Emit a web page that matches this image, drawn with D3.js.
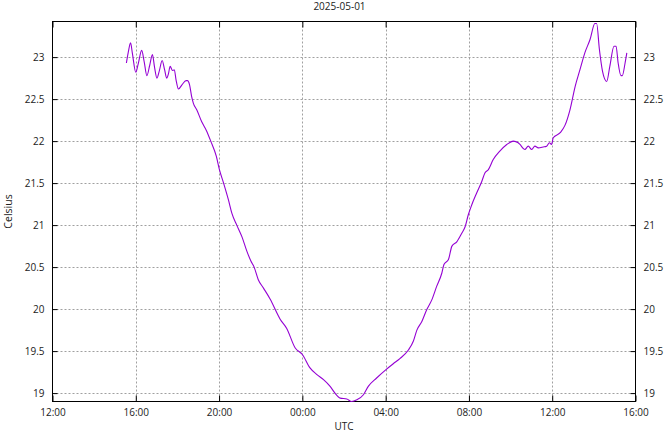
<!DOCTYPE html>
<html>
<head>
<meta charset="utf-8">
<script src="https://cdn.jsdelivr.net/npm/d3@7/dist/d3.min.js"></script>
<style>
  html, body { margin: 0; padding: 0; background: #fff; }
  svg { display: block; }
  text { font-family: "Open Sans", "DejaVu Sans", sans-serif; fill: #222; }
</style>
</head>
<body>
<svg id="chart" width="664" height="432"></svg>
<script>
// ---- data ----
const title = "2025-05-01";
const xLabel = "UTC";
const yLabel = "Celsius";

const times = [
  "2025-04-30 15:33","2025-04-30 15:38","2025-04-30 15:45","2025-04-30 15:50","2025-04-30 16:00",
  "2025-04-30 16:07","2025-04-30 16:17","2025-04-30 16:24","2025-04-30 16:32","2025-04-30 16:40",
  "2025-04-30 16:48","2025-04-30 16:54","2025-04-30 17:01","2025-04-30 17:08","2025-04-30 17:16",
  "2025-04-30 17:23","2025-04-30 17:29","2025-04-30 17:34","2025-04-30 17:39","2025-04-30 17:46",
  "2025-04-30 17:51","2025-04-30 17:56","2025-04-30 18:03","2025-04-30 18:13","2025-04-30 18:25",
  "2025-04-30 18:29","2025-04-30 18:35","2025-04-30 18:41","2025-04-30 18:46","2025-04-30 18:56",
  "2025-04-30 19:10","2025-04-30 19:23","2025-04-30 19:36","2025-04-30 19:52","2025-04-30 20:01",
  "2025-04-30 20:13","2025-04-30 20:27","2025-04-30 20:37","2025-04-30 20:51","2025-04-30 21:06",
  "2025-04-30 21:20","2025-04-30 21:32","2025-04-30 21:41","2025-04-30 21:53","2025-04-30 22:08",
  "2025-04-30 22:27","2025-04-30 22:56","2025-04-30 23:15","2025-04-30 23:39","2025-05-01 00:00",
  "2025-05-01 00:22","2025-05-01 00:42","2025-05-01 01:01","2025-05-01 01:20","2025-05-01 01:34",
  "2025-05-01 01:49","2025-05-01 02:08","2025-05-01 02:22","2025-05-01 02:37","2025-05-01 02:56",
  "2025-05-01 03:10","2025-05-01 03:34","2025-05-01 04:01","2025-05-01 04:22","2025-05-01 04:41",
  "2025-05-01 05:05","2025-05-01 05:20","2025-05-01 05:30","2025-05-01 05:44","2025-05-01 05:58",
  "2025-05-01 06:13","2025-05-01 06:27","2025-05-01 06:42","2025-05-01 06:48","2025-05-01 07:01",
  "2025-05-01 07:11","2025-05-01 07:25","2025-05-01 07:39","2025-05-01 07:49","2025-05-01 07:58",
  "2025-05-01 08:08","2025-05-01 08:22","2025-05-01 08:37","2025-05-01 08:46","2025-05-01 08:56",
  "2025-05-01 09:10","2025-05-01 09:29","2025-05-01 09:49","2025-05-01 10:08","2025-05-01 10:22",
  "2025-05-01 10:27","2025-05-01 10:41","2025-05-01 10:51","2025-05-01 11:01","2025-05-01 11:10",
  "2025-05-01 11:20","2025-05-01 11:34","2025-05-01 11:44","2025-05-01 11:52","2025-05-01 11:58",
  "2025-05-01 12:03","2025-05-01 12:23","2025-05-01 12:37","2025-05-01 12:51","2025-05-01 13:06",
  "2025-05-01 13:20","2025-05-01 13:34","2025-05-01 13:49","2025-05-01 14:03","2025-05-01 14:08",
  "2025-05-01 14:16","2025-05-01 14:25","2025-05-01 14:37","2025-05-01 14:46","2025-05-01 14:58",
  "2025-05-01 15:04","2025-05-01 15:10","2025-05-01 15:18","2025-05-01 15:22","2025-05-01 15:30",
  "2025-05-01 15:35"
];

const celsius = [
  22.93, 23.05, 23.17, 23.05, 22.82,
  22.92, 23.08, 22.95, 22.78, 22.90,
  23.03, 22.88, 22.75, 22.84, 22.96,
  22.85, 22.75, 22.80, 22.89, 22.84,
  22.85, 22.73, 22.62, 22.67, 22.72,
  22.72, 22.67, 22.53, 22.45, 22.37,
  22.23, 22.13, 22.00, 21.82, 21.66,
  21.50, 21.30, 21.14, 21.00, 20.86,
  20.69, 20.57, 20.50, 20.35, 20.25,
  20.12, 19.88, 19.77, 19.54, 19.46,
  19.30, 19.22, 19.16, 19.08, 19.00,
  18.94, 18.93, 18.90, 18.92, 18.98,
  19.08, 19.18, 19.28, 19.35, 19.41,
  19.51, 19.62, 19.75, 19.85, 19.99,
  20.11, 20.27, 20.43, 20.53, 20.59,
  20.75, 20.80, 20.90, 20.98, 21.12,
  21.24, 21.38, 21.52, 21.62, 21.66,
  21.78, 21.88, 21.96, 22.00, 21.98,
  21.96, 21.90, 21.94, 21.90, 21.94,
  21.92, 21.93, 21.94, 21.98, 21.96,
  22.04, 22.10, 22.19, 22.37, 22.65,
  22.85, 23.05, 23.21, 23.40, 23.40,
  23.09, 22.83, 22.71, 22.89, 23.13,
  23.13, 22.93, 22.78, 22.78, 22.93,
  23.05
];

const xDomain = ["2025-04-30 12:00", "2025-05-01 16:00"];
const yDomain = [18.9, 23.424];
const yTicks = [19, 19.5, 20, 20.5, 21, 21.5, 22, 22.5, 23];
const xTickLabels = ["12:00","16:00","20:00","00:00","04:00","08:00","12:00","16:00"];

// ---- drawing ----
const parse = d3.utcParse("%Y-%m-%d %H:%M");
const data = times.map((t, i) => ({ t: parse(t), v: celsius[i] }));

const L = 52.5, R = 635.5, T = 21.5, B = 401.5;
const svg = d3.select("#chart");

const x = d3.scaleUtc().domain(xDomain.map(parse)).range([L, R]);
const y = d3.scaleLinear().domain(yDomain).range([B, T]);
const xTicks = d3.utcHours(x.domain()[0], d3.utcHour.offset(x.domain()[1], 1), 4);

const grid = svg.append("g").attr("stroke", "#a0a0a0").attr("stroke-width", 1)
  .attr("stroke-dasharray", "2,2").attr("fill", "none");
grid.selectAll(".gx").data(xTicks.slice(1, -1)).join("line")
  .attr("x1", d => Math.round(x(d)) + 0.5).attr("x2", d => Math.round(x(d)) + 0.5)
  .attr("y1", T).attr("y2", B);
grid.selectAll(".gy").data(yTicks).join("line")
  .attr("x1", L).attr("x2", R)
  .attr("y1", d => Math.round(y(d)) + 0.5).attr("y2", d => Math.round(y(d)) + 0.5);

// axes via d3 axis generators, ticks pointing inward
const fmt = (d, i) => xTickLabels[i];
const xAxisB = d3.axisBottom(x).tickValues(xTicks).tickSizeInner(-6).tickSizeOuter(0).tickPadding(10).tickFormat(fmt);
const xAxisT = d3.axisTop(x).tickValues(xTicks).tickSizeInner(-6).tickSizeOuter(0).tickFormat("");
const yAxisL = d3.axisLeft(y).tickValues(yTicks).tickSizeInner(-5).tickSizeOuter(0).tickPadding(8).tickFormat(d3.format("~g"));
const yAxisR = d3.axisRight(y).tickValues(yTicks).tickSizeInner(-5).tickSizeOuter(0).tickPadding(8).tickFormat(d3.format("~g"));

function style(g) {
  g.select(".domain").remove();
  g.selectAll("line").attr("stroke", "#000");
  g.selectAll("text").attr("font-size", "10px").attr("fill", "#222")
    .attr("font-family", "'Open Sans', 'DejaVu Sans', sans-serif");
}
svg.append("g").attr("transform", `translate(0,${B})`).call(xAxisB).call(style)
  .selectAll("text").attr("dy", "0.71em").attr("y", 7);
svg.append("g").attr("transform", `translate(0,${T})`).call(xAxisT).call(style);
svg.append("g").attr("transform", `translate(${L},0)`).call(yAxisL).call(style);
svg.append("g").attr("transform", `translate(${R},0)`).call(yAxisR).call(style);

// border
svg.append("rect").attr("x", L).attr("y", T).attr("width", R - L).attr("height", B - T)
  .attr("fill", "none").attr("stroke", "#000").attr("stroke-width", 1);

// line
const line = d3.line().curve(d3.curveMonotoneX).x(d => x(d.t)).y(d => y(d.v));
svg.append("path").datum(data).attr("d", line)
  .attr("fill", "none").attr("stroke", "#9400d3").attr("stroke-width", 1.1)
  .attr("stroke-linejoin", "round");

// titles
svg.append("text").attr("x", 339.5).attr("y", 10).attr("text-anchor", "middle")
  .attr("font-size", "10px").text(title);
svg.append("text").attr("x", (L + R) / 2).attr("y", 430).attr("text-anchor", "middle")
  .attr("font-size", "10px").text(xLabel);
svg.append("text").attr("transform", `translate(12,${(T + B) / 2}) rotate(-90)`)
  .attr("text-anchor", "middle").attr("font-size", "10.5px").text(yLabel);
</script>
</body>
</html>
